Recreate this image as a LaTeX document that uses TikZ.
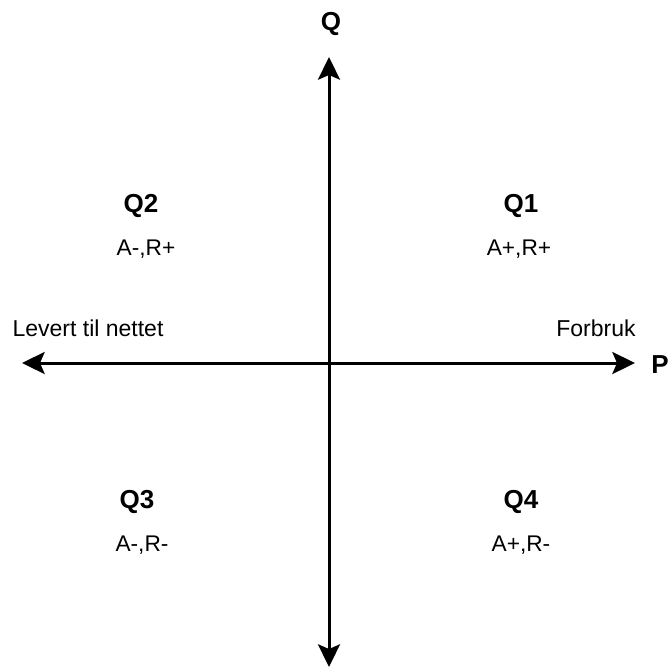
\documentclass[tikz,border=0pt]{standalone}
\usepackage{fontspec}
\setmainfont{Liberation Sans}
\usetikzlibrary{arrows.meta}

\begin{document}
\begin{tikzpicture}[
  x=0.75pt, y=-0.75pt,
  axis/.style={{Stealth[length=17pt, width=16.5pt, inset=3.5pt]}-{Stealth[length=17pt, width=16.5pt, inset=3.5pt]}, line width=2.25pt},
  qlbl/.style={anchor=base, inner sep=0pt, font=\fontsize{19.5}{22}\selectfont\bfseries},
  sgn/.style={anchor=base, inner sep=0pt, font=\fontsize{17}{20}\selectfont},
  txt/.style={anchor=base, inner sep=0pt, font=\fontsize{17.25}{20}\selectfont},
]
\useasboundingbox (0,0) rectangle (670,668);
% axis ends
\coordinate (W) at (22,363);
\coordinate (E) at (635,363);
\coordinate (N) at (329,57);
\coordinate (S) at (329,667);
\draw[axis] (W) -- (E);
\draw[axis] (S) -- (N);
% axis names
\node[qlbl] (Qax) at (331,30) {Q};
\node[qlbl, anchor=base east] (Pax) at (669,373) {P};
\node[txt] (lev) at (88,336) {Levert til nettet};
\node[txt] (fbr) at (596,336) {Forbruk};
% quadrants
\node[qlbl] (Q1) at (521,212) {Q1};
\node[sgn] (s1) at (519,255) {A+,R+};
\node[qlbl] (Q2) at (141,212) {Q2};
\node[sgn] (s2) at (146,255) {A-,R+};
\node[qlbl] (Q3) at (137,508) {Q3};
\node[sgn] (s3) at (142,551) {A-,R-};
\node[qlbl] (Q4) at (521,508) {Q4};
\node[sgn] (s4) at (521,551) {A+,R-};
\end{tikzpicture}
\end{document}
